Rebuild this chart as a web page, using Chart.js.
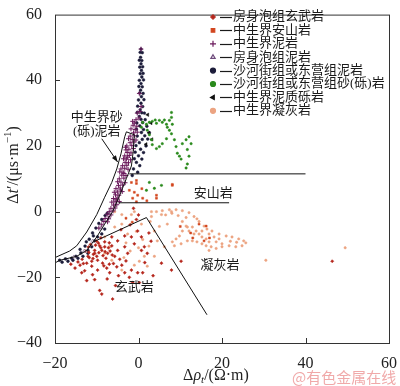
<!DOCTYPE html>
<html>
<head>
<meta charset="utf-8">
<script src="https://cdn.jsdelivr.net/npm/chart.js@4/dist/chart.umd.min.js"></script>
<style>
  body { margin: 0; background: #fff; }
  canvas { display: block; }
</style>
</head>
<body>
<canvas id="myChart" width="400" height="386"></canvas>
<script>
// series names, in legend order
const seriesNames = ['房身泡组玄武岩', '中生界安山岩', '中生界泥岩', '房身泡组泥岩',
  '沙河街组或东营组泥岩', '沙河街组或东营组砂(砾)岩', '中生界泥质砾岩', '中生界凝灰岩'];

const xTicks = [-20, 0, 20, 40, 60];
const yTicks = [-40, -20, 0, 20, 40, 60];

// [Δρt, Δt'] pairs
const basalt = [[-15.2,-17.2],[-13.6,-18.6],[-12.4,-21.0],[-10.5,-20.7],[-9.3,-24.0],[-6.2,-26.6],[-8.8,-25.1],
  [-12.9,-18.0],[-11.2,-16.6],[-9.8,-17.8],[-7.6,-17.2],[-6.9,-18.6],[-4.0,-16.3],[-3.3,-18.6],[-1.7,-17.8],
  [-0.2,-18.6],[1.0,-18.6],[0.2,-21.6],[-1.4,-21.6],[-12.1,-13.6],[-10.5,-12.7],[-8.8,-11.8],[-8.1,-10.7],
  [-6.4,-10.4],[-7.4,-12.7],[-5.7,-13.6],[-5.0,-11.8],[-3.3,-10.7],[-2.6,-12.7],[-1.0,-9.8],[0.7,-7.7],
  [-0.2,-5.9],[1.4,-10.7],[2.1,-12.7],[-1.7,-7.7],[-0.5,-2.4],[-3.3,-7.4],[-5.0,-8.9],[-6.4,-7.7],[5.5,-15.7],
  [7.9,-17.8],[-12.4,-15.7],[-14.0,-16.3],[-9.8,-14.8],[-8.6,-15.7],[-11.2,-15.1],[-10.5,-11.8],[-9.3,-10.4],
  [-8.1,-9.2],[-10.0,-13.6],[10.2,-15.1],[0.7,-11.8],[46.4,-15.1],[-11.5,-10.0],[-10.0,-9.0],[-9.0,-8.0],
  [-7.0,-9.5],[-12.8,-12.0],[-13.5,-14.5],[-11.8,-14.0],[-9.5,-12.5],[-7.8,-14.2],[-6.8,-12.0],[-8.5,-13.4],
  [-10.8,-13.0],[-4.5,-14.5],[-14.5,-15.3],[-16.2,-16.0],[-11.0,-19.2],[-7.5,-20.5],[-5.5,-22.5],[-3.0,-15.0],
  [1.5,-15.5],[3.0,-9.0],[-2.0,-4.0],[-4.2,-5.5],[2.5,-6.5],[0.0,-1.0],[-1.2,1.0],[-9.0,-11.0],[-7.2,-11.0],
  [-6.0,-15.8],[-11.9,-12.4],[-10.3,-10.2],[-8.3,-16.5],[-4.8,-19.5],[-2.2,-20.0],[3.5,-19.5],
  [-12.0,-10.8],[-9.6,-9.6],[-8.0,-12.2],[-6.3,-13.2],[-10.9,-14.3],[-13.2,-15.8],[-7.0,-16.0],[-5.2,-16.8]];

const andesite = [[-1.7,8.9],[-0.5,8.6],[-1.0,5.9],[-0.2,5.0],[-1.4,4.1],[4.3,5.0],[8.1,8.3],[-0.5,3.0],
  [-0.5,9.5],[1.0,4.1],[8.1,8.0],[4.3,4.1],[0.8,7.0],[-2.2,6.5],[2.0,3.3],[14.5,-3.8],[16.2,-4.4],
  [15.7,-8.9],[13.0,-8.0],[17.0,-8.0],[10.0,-4.5],[12.5,-6.5],[-3.0,-2.0],[-1.5,-3.2]];

const mudMz = [[-0.3,30],[0.3,30.5],[-0.6,28],[0.1,28.5],[-1.0,27],[-0.4,26],[-1.3,26.3],[-0.8,25],[-1.8,25.2],
  [-1.2,24],[-0.3,24.2],[-2.0,23],[-1.0,23.1],[-1.5,22],[-2.4,22.2],[-0.6,21.8],[-2.0,21],[-1.1,21.2],
  [-2.8,20],[-1.6,20.1],[-2.3,19],[-1.2,19.2],[-3.0,18.8],[-2.7,18],[-1.8,17.9],[-3.3,17],[-2.2,17.1],
  [-2.9,16],[-3.6,16.1],[-1.9,15.8],[-3.2,15],[-2.4,14.9],[-3.8,14],[-2.8,14.1],[-4.2,13],[-3.3,13.2],
  [-2.5,12.9],[-3.7,12],[-4.5,12.1],[-3.0,11],[-4.0,11.1],[-4.6,10],[-3.5,10.2],[-4.2,9],[-5.0,9.1],
  [-3.2,8.8],[-4.8,8],[-3.8,8.1],[-5.4,7],[-4.4,7.2],[-5.0,6],[-3.9,6.1],[-5.8,5.9],[-4.7,5],[-5.5,5.1],
  [-6.0,4],[-5.1,4.1],[-5.6,3],[-4.6,3.1],[-6.4,2.9],[-6.0,2],[-5.2,2.1],[-6.6,1],[-5.6,1.1],[-7.0,0],
  [-6.1,0.2],[-6.6,-1],[-7.5,-0.8],[-7.2,-2],[-8.0,-2.1],[-8.3,-3],[-7.4,-3.1],[-8.8,-4],[-9.5,-5],
  [-2.6,16.6],[-3.5,11.6],[-4.3,6.6],[-5.3,3.6],[-3.1,19.6],[-1.4,27.5],[0.6,32],[0.2,36],[0.6,49.5]];

const mudFsp = [[-13.0,-12.0],[-11.0,-9.0],[-15.5,-13.8],[-9.0,-5.0],[-7.0,-2.0]];

const mudSh = [[0.6,49.5],[0.4,48.5],[0.9,48.4],[0.5,47],[0.8,46],[0.2,46.1],[0.6,45],[0.3,44],[1.0,44.1],
  [0.7,43],[0.4,42],[1.1,42.1],[0.8,41],[0.2,40],[1.2,40.1],[0.6,39],[0.9,38],[0.1,38.1],[0.5,37],[1.1,36],
  [0.3,36.1],[0.7,35],[0.0,34],[1.3,34.1],[0.6,33],[1.0,32],[-0.2,32.1],[0.4,31],[1.4,30],[0.8,30.1],
  [-0.3,30.2],[0.2,29],[1.6,28],[0.6,28.1],[-0.4,27],[1.0,27.1],[2.0,26],[0.3,26.1],[1.2,25],[-0.5,25.1],
  [2.6,24],[0.7,24.1],[-0.3,23],[1.5,23.1],[0.9,22],[2.2,22.1],[0.2,21],[1.8,20],[-0.6,20.1],[0.5,19],
  [1.2,18],[-0.8,18.1],[0.0,17],[0.8,16],[-1.0,16.1],[-0.5,15],[0.3,14],[-1.2,13],[-0.2,12],[-1.5,11],
  [-18.3,-15.4],[-16.9,-15.1],[-15.7,-14.8],[-14.5,-14.2],[-13.3,-13.6],[-12.1,-11.8],[-11.2,-10.7],
  [-10.5,-8.9],[-9.8,-7.7],[-8.8,-6.8],[-8.1,-5.3],[-12.1,-12.7],[-17.5,-14.4],[-15.0,-13.6],[-13.8,-12.6],
  [-12.8,-10.5],[-11.8,-8.4],[-11.0,-6.5],[-10.2,-5.0],[-9.5,-3.6],[-8.8,-2.4],[-8.0,-1.2],[-7.5,-0.5],
  [-18.9,-14.8],[-16.0,-14.2],[-14.0,-11.5],[-12.5,-9.2],[-10.8,-7.4]];

const sandSh = [[1.0,27.2],[1.9,26.6],[2.6,27.2],[3.3,27.5],[4.3,26.9],[5.0,27.8],[5.7,27.2],[6.7,26.6],
  [7.4,27.8],[7.9,30.2],[7.9,28.7],[6.9,25.7],[7.4,24.8],[7.9,23.7],[2.1,24.8],[2.6,23.4],[3.1,21.9],
  [3.3,20.4],[4.3,19.2],[5.0,19.8],[5.7,20.7],[6.7,22.2],[8.6,21.9],[9.0,19.8],[9.3,17.8],[9.8,16.9],
  [10.5,20.7],[11.4,21.9],[12.1,22.8],[12.6,20.7],[11.7,18.9],[12.1,16.9],[11.7,14.5],[11.4,13.3],
  [10.2,16.0],[8.1,26.6],[0.7,25.7],[3.8,7.1],[5.5,8.0],[1.9,6.5],[2.6,8.9],[4.0,27.9],[6.2,27.9]];

const conglom = [[2.5,24.0],[3.0,27.0],[1.8,20.5],[2.2,29.5],[3.2,22.0]];

const tuff = [[3.1,-1.5],[4.3,0],[5.7,0.3],[7.4,0.6],[9.0,0.6],[10.5,0.3],[12.1,-0.3],[13.3,-1.5],[14.5,-3.0],
  [15.7,-4.4],[16.4,-5.3],[17.6,-5.9],[19.3,-6.8],[21.0,-7.4],[22.4,-7.7],[24.0,-8.3],[25.2,-8.9],[25.7,-9.5],
  [24.8,-10.4],[23.3,-10.7],[21.7,-10.4],[20.0,-9.8],[18.6,-9.2],[16.9,-9.2],[16.2,-8.3],[15.2,-7.7],
  [14.5,-6.8],[13.8,-5.9],[12.9,-4.7],[11.4,-4.4],[10.5,-5.9],[9.8,-7.4],[9.0,-8.3],[8.1,-9.2],[8.6,-10.4],
  [10.2,-9.8],[11.7,-8.9],[12.9,-8.9],[14.0,-9.2],[15.2,-9.8],[16.2,-10.4],[17.4,-10.7],[18.6,-11.2],
  [20.0,-10.7],[11.7,-4.7],[12.1,-5.9],[13.3,-6.8],[15.2,-5.9],[16.9,-6.8],[18.1,-7.7],[19.3,-8.3],
  [11.4,-1.8],[10.5,-3.0],[16.9,-11.8],[22.0,-9.0],[23.5,-9.3],[9.5,-1.2],[8.0,-0.5],[6.5,-1.0],[14.0,-2.2],
  [-5.7,-4.7],[-4.0,-3.8],[-2.6,-6.8],[-1.7,-0.9],[0.7,-3.8],[1.4,-13.6],[0.2,-15.1],[-1.0,-16.3],
  [2.1,-16.6],[3.8,-13.6],[-4.0,-17.8],[-8.1,-12.7],[-6.4,-14.8],[3.8,-5.9],[4.5,-8.9],[6.2,-10.7],
  [6.9,-3.8],[7.9,0.0],[5.5,-0.9],[3.1,0],[-4.0,-0.9],[-5.7,0],[-1.0,0],[-8.1,-7.7],[-6.9,-10.7],
  [-3.0,-9.5],[-2.0,-12.0],[1.0,-8.5],[2.5,-10.5],[-0.5,-6.0],[5.0,-4.5],[2.8,-3.0],[-3.5,-14.0],
  [0.0,-11.0],[30.5,-14.8],[49.5,-11.0]];

// boundary lines of the rock fields
const bandLine = [[-20,-14.0],[-18.8,-13.3],[-16.5,-12.0],[-14.8,-10.4],[-12.4,-6.2],[-10.0,-0.9],[-8.1,4.4],
  [-6.4,8.9],[-5.2,13.0],[-4.2,17.6],[-3.3,22.8],[-2.9,24.3],[-1.0,23.4],[-1.3,18.0],[-1.7,13.9],
  [-2.9,10.1],[-4.5,5.0],[-6.2,0],[-8.1,-3.8],[-10.0,-7.7],[-12.4,-11.8],[-14.8,-13.6],[-18.8,-14.8],[-20,-15.6]];
const basaltLine = [[-10.8,-9.2],[1.9,-1.8],[16.4,-31.4]];
const andesiteTop = [[-2.2,11.5],[40,11.5]];
const andesiteBottom = [[-4.8,2.7],[21.7,2.7]];
const arrowLine = [[-8.8,22.2],[-5.0,15.1]];

// text labels placed in data coordinates
const notes = [
  ['中生界砂', -10, 28.7], ['(砾)泥岩', -10, 24.3],
  ['安山岩', 17.9, 5.6], ['凝灰岩', 19.5, -16.3], ['玄武岩', -1.0, -23.1]
];

const pts = arr => arr.map(p => ({ x: p[0], y: p[1] }));

const styles = [
  { data: basalt, color: '#b5261c', style: 'rectRot', r: 1.6, open: false },
  { data: andesite, color: '#d2461f', style: 'rect', r: 1.4, open: false },
  { data: mudMz, color: '#6b1a5c', style: 'cross', r: 2.4, open: false },
  { data: mudFsp, color: '#6e4a7c', style: 'triangle', r: 2.0, open: true },
  { data: mudSh, color: '#1c1c3a', style: 'circle', r: 1.4, open: false },
  { data: sandSh, color: '#2a8a1c', style: 'circle', r: 1.2, open: false },
  { data: conglom, color: '#111111', style: 'triangle', r: 2.0, open: false, rot: -90 },
  { data: tuff, color: '#eca482', style: 'circle', r: 1.2, open: false }
];
const drawOrder = [4, 6, 2, 3, 5, 0, 1, 7]; // lower order draws on top

const serif = '"Liberation Serif", "Noto Sans CJK SC", serif';

const datasets = styles.map((s, i) => ({
  label: seriesNames[i],
  data: pts(s.data),
  pointStyle: s.style,
  pointRotation: s.rot || 0,
  pointRadius: s.r,
  borderWidth: s.style === 'cross' ? 1.0 : 0.5,
  borderColor: s.color,
  backgroundColor: s.open ? '#fff' : s.color,
  order: drawOrder[i] + 1
}));

[bandLine, basaltLine, andesiteTop, andesiteBottom, arrowLine].forEach(l => {
  datasets.push({
    data: pts(l), showLine: true, pointRadius: 0, borderColor: '#111', borderWidth: 1,
    tension: 0, fill: false, order: 0
  });
});

function richText(ctx, parts, cx, cy) {
  let w = 0;
  parts.forEach(p => { ctx.font = (p.it ? 'italic ' : '') + p.size + 'px ' + serif; w += ctx.measureText(p.t).width; });
  let x = cx - w / 2;
  parts.forEach(p => {
    ctx.font = (p.it ? 'italic ' : '') + p.size + 'px ' + serif;
    ctx.fillText(p.t, x, cy + (p.dy || 0));
    x += ctx.measureText(p.t).width;
  });
}

const overlay = {
  id: 'overlay',
  afterDraw(chart) {
    const { ctx, chartArea: a, scales: { x, y } } = chart;
    ctx.save();
    ctx.strokeStyle = '#333';
    ctx.lineWidth = 1;
    ctx.strokeRect(a.left + 0.5, a.top + 0.5, a.right - a.left, a.bottom - a.top);
    // inward ticks
    ctx.beginPath();
    xTicks.slice(1, -1).forEach(v => {
      const px = Math.round(x.getPixelForValue(v)) + 0.5;
      ctx.moveTo(px, a.bottom); ctx.lineTo(px, a.bottom - 5);
    });
    yTicks.slice(1, -1).forEach(v => {
      const py = Math.round(y.getPixelForValue(v)) + 0.5;
      ctx.moveTo(a.left, py); ctx.lineTo(a.left + 5, py);
    });
    ctx.stroke();

    // arrow head
    const p1 = arrowLine[0], p2 = arrowLine[1];
    const x1 = x.getPixelForValue(p1[0]), y1 = y.getPixelForValue(p1[1]);
    const x2 = x.getPixelForValue(p2[0]), y2 = y.getPixelForValue(p2[1]);
    const ang = Math.atan2(y2 - y1, x2 - x1);
    ctx.fillStyle = '#111';
    ctx.beginPath();
    ctx.moveTo(x2, y2);
    ctx.lineTo(x2 - 7 * Math.cos(ang - 0.35), y2 - 7 * Math.sin(ang - 0.35));
    ctx.lineTo(x2 - 7 * Math.cos(ang + 0.35), y2 - 7 * Math.sin(ang + 0.35));
    ctx.closePath();
    ctx.fill();

    // field labels
    ctx.fillStyle = '#1a1a1a';
    ctx.textAlign = 'center';
    ctx.textBaseline = 'middle';
    ctx.font = '13px ' + serif;
    notes.forEach(n => ctx.fillText(n[0], x.getPixelForValue(n[1]), y.getPixelForValue(n[2])));

    // legend: marker, dash, name
    ctx.textAlign = 'left';
    styles.forEach((s, i) => {
      const ly = 17 + i * 13.4;
      ctx.fillStyle = s.open ? '#fff' : s.color;
      ctx.strokeStyle = s.color;
      Chart.helpers.drawPoint(ctx, {
        pointStyle: s.style, radius: s.style === 'cross' ? 3 : 2.5, rotation: s.rot || 0,
        borderWidth: s.style === 'cross' ? 1.3 : 1.2
      }, 213, ly);
      ctx.strokeStyle = '#1a1a1a';
      ctx.lineWidth = 1.2;
      ctx.beginPath();
      ctx.moveTo(220, Math.round(ly) + 0.5);
      ctx.lineTo(232, Math.round(ly) + 0.5);
      ctx.stroke();
      ctx.fillStyle = '#1a1a1a';
      ctx.font = '13px ' + serif;
      ctx.fillText(seriesNames[i], 233, ly);
    });

    // axis titles
    ctx.fillStyle = '#222';
    richText(ctx, [
      { t: 'Δ', size: 16 }, { t: 'ρ', size: 16, it: true }, { t: 't', size: 11, it: true, dy: 4 },
      { t: '/(Ω·m)', size: 16 }
    ], 216, 376);
    ctx.save();
    ctx.translate(14, 165);
    ctx.rotate(-Math.PI / 2);
    richText(ctx, [
      { t: 'Δ', size: 16 }, { t: 't', size: 16, it: true }, { t: '′/(μs·m', size: 16 },
      { t: '−1', size: 11, dy: -6 }, { t: ')', size: 16 }
    ], 0, 0);
    ctx.restore();

    // watermark
    ctx.fillStyle = 'rgba(235,140,140,0.75)';
    ctx.font = '15px "Noto Sans CJK SC", sans-serif';
    ctx.fillText('@有色金属在线', 292, 377);
    ctx.restore();
  }
};

new Chart('myChart', {
  type: 'scatter',
  data: { datasets: datasets },
  options: {
    responsive: false,
    animation: false,
    layout: { padding: { top: 5, right: 8, left: 0, bottom: 0 } },
    plugins: { legend: { display: false }, tooltip: { enabled: false } },
    scales: {
      x: {
        min: -20, max: 60,
        afterFit: s => { s.height = 43; },
        afterBuildTicks: s => { s.ticks = xTicks.map(v => ({ value: v })); },
        grid: { display: false },
        border: { display: false },
        ticks: {
          padding: 3, color: '#222', font: { family: serif, size: 16 },
          callback: v => String(v).replace('-', '\u2212')
        }
      },
      y: {
        min: -40, max: 60,
        afterFit: s => { s.width = 55; },
        afterBuildTicks: s => { s.ticks = yTicks.map(v => ({ value: v })); },
        grid: { display: false },
        border: { display: false },
        ticks: {
          padding: 5, color: '#222', font: { family: serif, size: 16 },
          callback: v => String(v).replace('-', '\u2212')
        }
      }
    }
  },
  plugins: [overlay]
});
</script>
</body>
</html>
